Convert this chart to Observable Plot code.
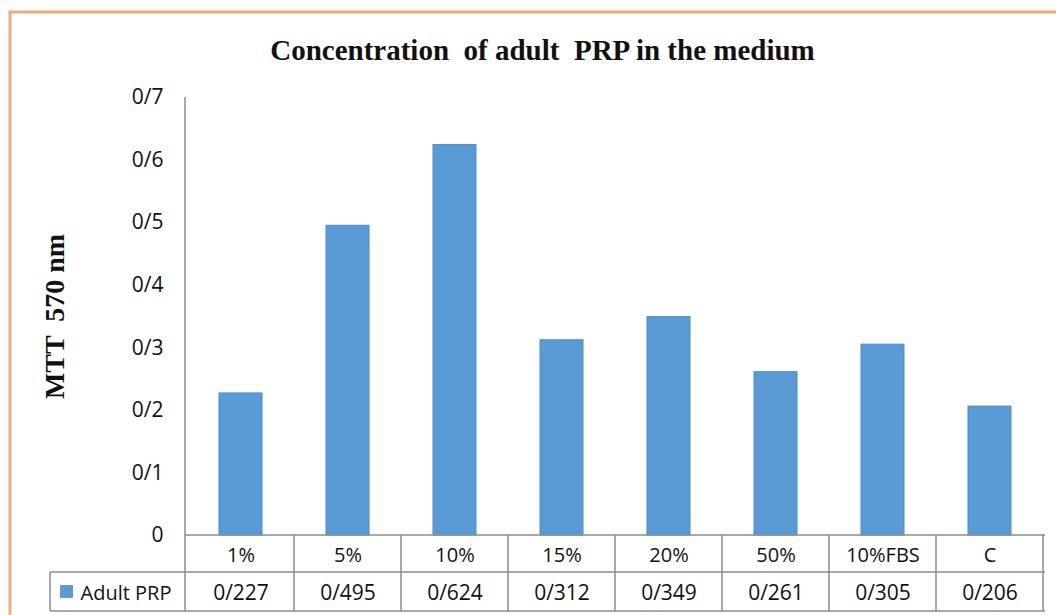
<!DOCTYPE html>
<html>
<head>
<meta charset="utf-8">
<script src="https://cdn.jsdelivr.net/npm/d3@7"></script>
<script src="https://cdn.jsdelivr.net/npm/@observablehq/plot@0.6"></script>
<style>
  html, body { margin: 0; padding: 0; background: #fff; }
  #chart { position: relative; width: 1056px; height: 615px; overflow: hidden; }
  #chart svg { display: block; }
</style>
</head>
<body>
<div id="chart"></div>
<script>
const title = "Concentration  of adult  PRP in the medium";
const yLabel = "MTT  570 nm";
const seriesName = "Adult PRP";
const categories = ["1%", "5%", "10%", "15%", "20%", "50%", "10%FBS", "C"];
const values = [0.227, 0.495, 0.624, 0.312, 0.349, 0.261, 0.305, 0.206];
const valueLabels = ["0/227", "0/495", "0/624", "0/312", "0/349", "0/261", "0/305", "0/206"];
const yTicks = [0, 0.1, 0.2, 0.3, 0.4, 0.5, 0.6, 0.7];
const yTickLabels = ["0", "0/1", "0/2", "0/3", "0/4", "0/5", "0/6", "0/7"];

const data = categories.map((c, i) => ({cat: c, val: values[i], label: valueLabels[i]}));
const barColor = "#5b9bd5";
const sansFont = "'Open Sans', 'Liberation Sans', sans-serif";
const serifFont = "'Liberation Serif', 'DejaVu Serif', serif";
const textColor = "#111";

const plot = Plot.plot({
  width: 1056,
  height: 615,
  marginLeft: 185,
  marginRight: 11,
  marginTop: 97,
  marginBottom: 80,
  style: {background: "transparent", overflow: "visible"},
  x: {domain: categories, padding: 0, axis: null},
  y: {domain: [0, 0.7], axis: null},
  marks: [
    Plot.barY(data, {x: "cat", y: "val", fill: barColor, stroke: "#4d8ccb", strokeWidth: 1, insetLeft: 32, insetRight: 32}),
    Plot.axisY(yTicks, {
      label: null,
      tickSize: 0, tickPadding: 22,
      tickFormat: (d) => yTickLabels[yTicks.indexOf(d)],
      fontSize: 21, fontFamily: sansFont, fill: textColor
    }),
    Plot.text([yLabel], {frameAnchor: "left", dx: -130, rotate: -90, textAnchor: "middle", lineAnchor: "middle", fontSize: 28, fontWeight: "bold", fontFamily: serifFont, fill: "#111"}),
    Plot.text([title], {frameAnchor: "top", dx: -73, dy: -47, textAnchor: "middle", lineAnchor: "middle", fontSize: 29, fontWeight: "bold", fontFamily: serifFont, fill: "#111"}),
    Plot.text(data, {x: "cat", text: "cat", frameAnchor: "bottom", dy: 20, lineAnchor: "middle", fontSize: 20, fontFamily: sansFont, fill: textColor}),
    Plot.text(data, {x: "cat", text: "label", frameAnchor: "bottom", dy: 58, lineAnchor: "middle", fontSize: 21, fontFamily: sansFont, fill: textColor}),
    Plot.text([seriesName], {frameAnchor: "bottom-left", dx: -105, dy: 58, textAnchor: "start", lineAnchor: "middle", fontSize: 20, fontFamily: sansFont, fill: textColor}),
    Plot.dot([seriesName], {frameAnchor: "bottom-left", dx: -119, dy: 56, symbol: "square", r: 7.3, fill: barColor, stroke: "none"})
  ]
});

document.getElementById("chart").appendChild(plot);

// Axis lines and data-table grid drawn from Plot's own scales
const xs = plot.scale("x");
const ys = plot.scale("y");
const x0 = xs.range[0], x1 = xs.range[1];
const yBase = ys.apply(0), yTop = ys.apply(0.7);
const row1 = yBase + 37, row2 = yBase + 76, legendLeft = 50;
const svg = d3.select(plot);
const g = svg.append("g").attr("stroke", "#8c8c8c").attr("stroke-width", 1.5).attr("fill", "none");
const line = (a, b, c, d) => g.append("line").attr("x1", a).attr("y1", b).attr("x2", c).attr("y2", d);
line(x0, yTop, x0, row2);
line(x0, yBase, x1, yBase);
line(legendLeft, row1, x1, row1);
line(legendLeft, row2, x1, row2);
line(legendLeft, row1, legendLeft, row2);
categories.forEach(c => {
  const xe = xs.apply(c) + xs.bandwidth;
  line(xe, yBase, xe, row2);
});
svg.append("rect").attr("x", 10).attr("y", 12).attr("width", 1200).attr("height", 800)
  .attr("fill", "none").attr("stroke", "#f0a97f").attr("stroke-width", 3);
</script>
</body>
</html>
